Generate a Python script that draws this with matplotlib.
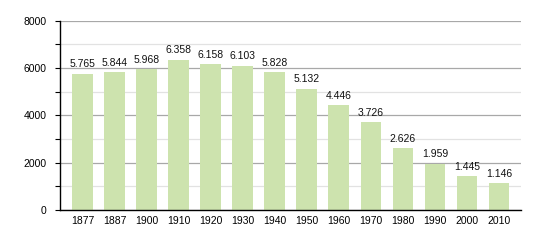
import numpy as np
import matplotlib.pyplot as plt
from matplotlib.ticker import MultipleLocator

years = ['1877', '1887', '1900', '1910', '1920', '1930', '1940',
         '1950', '1960', '1970', '1980', '1990', '2000', '2010']
population = [5765, 5844, 5968, 6358, 6158, 6103, 5828,
              5132, 4446, 3726, 2626, 1959, 1445, 1146]


def fmt(v):
    # German thousands separator
    return f"{v:,}".replace(',', '.')


def main():
    plt.rcParams['font.family'] = ['Liberation Sans', 'DejaVu Sans']
    fig = plt.figure(figsize=(5.4, 2.4), dpi=100)
    ax = fig.add_axes([0.111, 0.125, 0.854, 0.789])

    x = np.arange(len(years))
    bars = ax.bar(x, population, width=0.64, color='#cde3ae', zorder=2)

    for rect, v in zip(bars, population):
        ax.annotate(fmt(v), (rect.get_x() + rect.get_width() / 2, rect.get_height()),
                    xytext=(0, 3), textcoords='offset points',
                    ha='center', va='bottom', fontsize=7.5, color='#111111', zorder=3)

    ax.set_xlim(-0.70, 13.69)
    ax.set_ylim(0, 8000)
    ax.set_xticks(x)
    ax.set_xticklabels(years)
    ax.yaxis.set_major_locator(MultipleLocator(2000))
    ax.yaxis.set_minor_locator(MultipleLocator(1000))

    ax.grid(axis='y', which='major', color='#a8a8a8', linewidth=0.9, zorder=0)
    ax.grid(axis='y', which='minor', color='#e2e2e2', linewidth=0.9, zorder=0)
    ax.set_axisbelow(True)

    for s in ['top', 'right']:
        ax.spines[s].set_visible(False)
    ax.spines['left'].set_linewidth(1.0)
    ax.spines['bottom'].set_linewidth(1.0)

    ax.tick_params(axis='y', which='both', length=3.5, width=0.8, pad=6, labelsize=7.5)
    ax.tick_params(axis='x', length=0, pad=4, labelsize=7.5)

    fig.savefig('out.png', dpi=100)
    plt.close(fig)


if __name__ == "__main__":
    main()
